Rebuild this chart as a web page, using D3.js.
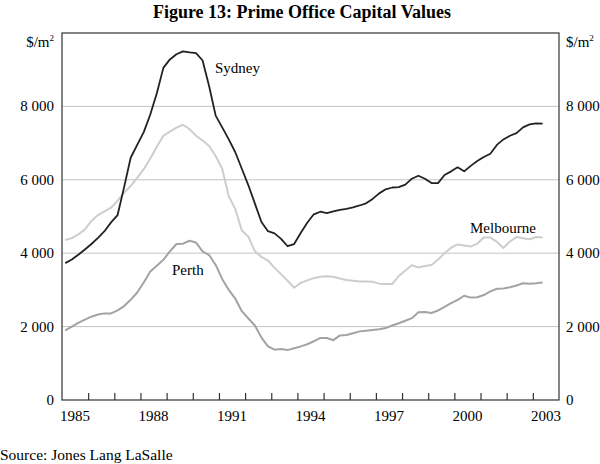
<!DOCTYPE html>
<html>
<head>
<meta charset="utf-8">
<script src="https://cdn.jsdelivr.net/npm/d3@7.9.0/dist/d3.min.js"></script>
<style>
  body { margin: 0; background: #fff; }
  svg { display: block; font-family: "Liberation Serif", "Times New Roman", serif; }
</style>
</head>
<body>
<svg id="chart" width="600" height="464"></svg>
<script>
// quarterly data, 1985 Q1 to 2003 Q2
const firstYear = 1985;
const sydney = [
  3730, 3830, 3960, 4100, 4250, 4420, 4600, 4840, 5040, 5800, 6600, 6950,
  7300, 7780, 8360, 9050, 9280, 9420, 9500, 9470, 9450, 9250, 8550, 7750,
  7430, 7100, 6750, 6300, 5850, 5350, 4850, 4600, 4540, 4390, 4190, 4250,
  4550, 4830, 5060, 5130, 5090, 5140, 5180, 5210, 5250, 5300, 5360, 5480,
  5630, 5740, 5790, 5800, 5870, 6030, 6110, 6030, 5910, 5910, 6130, 6230,
  6340, 6230, 6380, 6510, 6620, 6710, 6950, 7100, 7200, 7270, 7430, 7510,
  7540, 7530
];
const melbourne = [
  4360, 4410, 4510, 4650, 4880, 5040, 5140, 5240, 5430, 5650, 5830, 6050,
  6290, 6580, 6900, 7200, 7310, 7420, 7500, 7380, 7200, 7070, 6920, 6650,
  6300, 5550, 5200, 4620, 4450, 4050, 3900, 3800, 3600, 3430, 3250, 3060,
  3190, 3260, 3320, 3360, 3370, 3360, 3310, 3270, 3250, 3230, 3230, 3220,
  3170, 3160, 3160, 3380, 3530, 3670, 3610, 3650, 3680, 3830, 4000, 4150,
  4240, 4210, 4180, 4260, 4430, 4430, 4310, 4140, 4320, 4440, 4410, 4380,
  4440, 4430
];
const perth = [
  1900, 2000, 2100, 2190, 2270, 2330, 2360, 2360, 2440, 2560, 2730, 2930,
  3200, 3500, 3660, 3820, 4050, 4250, 4260, 4340, 4290, 4050, 3950, 3680,
  3300, 3000, 2760, 2420, 2220, 2030, 1700, 1460, 1370, 1390, 1360, 1410,
  1460, 1520, 1600, 1690, 1690, 1630, 1760, 1770, 1820, 1870, 1890, 1910,
  1930, 1960, 2030, 2090, 2160, 2230, 2390, 2400, 2370, 2440, 2540, 2640,
  2730, 2840, 2790, 2800, 2860, 2960, 3030, 3040, 3070, 3120, 3180, 3170,
  3180, 3200
];
const yearLabels = [1985, 1988, 1991, 1994, 1997, 2000, 2003];
const yTicks = [0, 2000, 4000, 6000, 8000];

const svg = d3.select("#chart");
const m = { left: 62, right: 559, top: 33, bottom: 400 };

const x = d3.scaleLinear().domain([1985, 2004]).range([m.left, m.right]);
const y = d3.scaleLinear().domain([0, 10000]).range([m.bottom, m.top]);
const fmt = d3.formatLocale({ decimal: ".", thousands: " ", grouping: [3], currency: ["$", ""] }).format(",");

// title
svg.append("text")
  .attr("x", 302).attr("y", 18)
  .attr("text-anchor", "middle")
  .attr("font-weight", "bold")
  .attr("font-size", 18)
  .text("Figure 13: Prime Office Capital Values");

// gridlines
svg.append("g")
  .selectAll("line")
  .data(yTicks.filter(d => d > 0))
  .join("line")
  .attr("x1", m.left).attr("x2", m.right)
  .attr("y1", d => y(d)).attr("y2", d => y(d))
  .attr("stroke", "#c4c4c4")
  .attr("stroke-width", 1);

// lines
const line = d3.line()
  .x((d, i) => x(firstYear + (i + 0.5) / 4))
  .y(d => y(d));

const series = [
  { values: melbourne, color: "#cdcdcd", width: 2 },
  { values: perth, color: "#a3a3a3", width: 2 },
  { values: sydney, color: "#222", width: 1.8 }
];
svg.append("g")
  .selectAll("path")
  .data(series)
  .join("path")
  .attr("d", d => line(d.values))
  .attr("fill", "none")
  .attr("stroke", d => d.color)
  .attr("stroke-width", d => d.width)
  .attr("stroke-linejoin", "round");

// frame
svg.append("rect")
  .attr("x", m.left).attr("y", m.top)
  .attr("width", m.right - m.left).attr("height", m.bottom - m.top)
  .attr("fill", "none")
  .attr("stroke", "#333")
  .attr("stroke-width", 1.2);

// x ticks at year boundaries, pointing up
const xAxis = d3.axisBottom(x)
  .tickValues(d3.range(1986, 2004))
  .tickSize(-7)
  .tickFormat("");
svg.append("g")
  .attr("transform", `translate(0,${m.bottom})`)
  .call(xAxis)
  .call(g => g.select(".domain").remove())
  .call(g => g.selectAll(".tick line").attr("stroke", "#333").attr("stroke-width", 1.2));

// year labels centred in the year
svg.append("g")
  .selectAll("text")
  .data(yearLabels)
  .join("text")
  .attr("x", d => x(d + 0.5))
  .attr("y", 421)
  .attr("text-anchor", "middle")
  .attr("font-size", 15)
  .text(d => d);

// y labels both sides
const yl = svg.append("g").attr("font-size", 15);
yl.selectAll(".yl")
  .data(yTicks)
  .join("text")
  .attr("class", "yl")
  .attr("x", 54)
  .attr("y", d => y(d) + 5)
  .attr("text-anchor", "end")
  .text(d => fmt(d));
yl.selectAll(".yr")
  .data(yTicks)
  .join("text")
  .attr("class", "yr")
  .attr("x", 566)
  .attr("y", d => y(d) + 5)
  .attr("text-anchor", "start")
  .text(d => fmt(d));

// unit labels
[{ x: 54, anchor: "end" }, { x: 566, anchor: "start" }].forEach(u => {
  const t = svg.append("text")
    .attr("x", u.x).attr("y", 47)
    .attr("text-anchor", u.anchor)
    .attr("font-size", 15);
  t.append("tspan").text("$/m");
  t.append("tspan").attr("font-size", 9).attr("dy", -6).text("2");
});

// series labels
const labels = [
  { text: "Sydney", x: 215, y: 73 },
  { text: "Melbourne", x: 470, y: 233 },
  { text: "Perth", x: 172, y: 275 }
];
svg.append("g")
  .selectAll("text")
  .data(labels)
  .join("text")
  .attr("x", d => d.x).attr("y", d => d.y)
  .attr("font-size", 15)
  .text(d => d.text);

// source
svg.append("text")
  .attr("x", 0).attr("y", 460)
  .attr("font-size", 15.5)
  .text("Source: Jones Lang LaSalle");
</script>
</body>
</html>
